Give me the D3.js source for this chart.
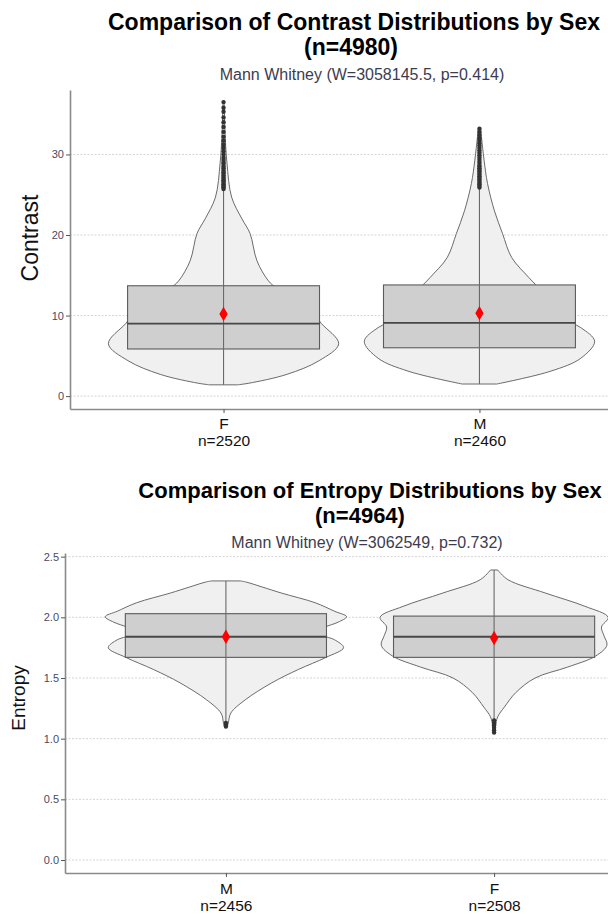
<!DOCTYPE html>
<html>
<head>
<meta charset="utf-8">
<script src="https://cdn.jsdelivr.net/npm/d3@7"></script>
<style>
  body { margin: 0; background: #fff; }
  text { font-family: "Liberation Sans", Arial, sans-serif; }
</style>
</head>
<body>
<div id="chart"></div>
<script>
// ---- Contrast panel data ----
const contrastCats = ["F", "M"];
const contrastN = [2520, 2460];
const contrastQ1 = [5.85, 6.0];
const contrastMedian = [9.0, 9.1];
const contrastQ3 = [13.7, 13.8];
const contrastMean = [10.2, 10.3];
const contrastWhiskerLo = [1.4, 1.5];
const contrastWhiskerHi = [25.5, 25.8];
// [value, relative violin width]
const contrastDensityF = [[1.4, 0.12], [1.6, 0.22], [2.7, 0.55], [4.4, 0.83], [6.5, 1.0], [9.0, 0.85],
  [10.2, 0.78], [11.5, 0.62], [13.4, 0.46], [14.3, 0.39], [16.8, 0.29], [20.2, 0.23], [22.0, 0.16],
  [24.7, 0.07], [28.9, 0.03], [32.0, 0.015], [36.5, 0.005]];
const contrastDensityM = [[1.5, 0.15], [3.1, 0.62], [4.7, 0.88], [6.8, 1.0], [8.5, 0.88], [9.7, 0.71],
  [11.5, 0.57], [13.1, 0.53], [14.7, 0.43], [17.2, 0.28], [20.2, 0.2], [23.0, 0.13], [26.4, 0.07],
  [29.3, 0.04], [33.2, 0.01]];
const contrastOutliersF = [25.7, 25.9, 26.0, 26.2, 26.3, 26.5, 26.7, 26.8, 27.0, 27.2, 27.4, 27.6, 27.8,
  28.0, 28.3, 28.5, 28.8, 29.0, 29.3, 29.6, 30.0, 30.4, 30.8, 31.2, 31.7, 32.2, 32.8, 33.4, 34.0, 34.6,
  35.3, 35.8, 36.5];
const contrastOutliersM = [25.9, 26.1, 26.3, 26.5, 26.7, 26.9, 27.1, 27.3, 27.5, 27.7, 27.9, 28.1, 28.3,
  28.5, 28.7, 29.0, 29.3, 29.6, 29.9, 30.2, 30.5, 30.8, 31.1, 31.4, 31.7, 32.0, 32.4, 32.8, 33.2];
const contrastTicks = [0, 10, 20, 30];

// ---- Entropy panel data ----
const entropyCats = ["M", "F"];
const entropyN = [2456, 2508];
const entropyQ1 = [1.67, 1.67];
const entropyMedian = [1.84, 1.84];
const entropyQ3 = [2.03, 2.01];
const entropyMean = [1.84, 1.83];
const entropyWhiskerLo = [1.14, 1.16];
const entropyWhiskerHi = [2.30, 2.39];
const entropyDensityM = [[1.10, 0.01], [1.13, 0.02], [1.21, 0.04], [1.32, 0.16], [1.46, 0.38], [1.57, 0.6],
  [1.67, 0.83], [1.75, 0.975], [1.815, 0.9], [1.84, 0.83], [1.88, 0.74], [1.92, 0.82], [1.96, 0.93],
  [2.005, 1.0], [2.05, 0.9], [2.12, 0.74], [2.20, 0.46], [2.25, 0.3], [2.29, 0.17], [2.30, 0.12]];
const entropyDensityF = [[1.05, 0.005], [1.10, 0.01], [1.18, 0.03], [1.26, 0.085], [1.38, 0.18], [1.50, 0.34],
  [1.59, 0.61], [1.68, 0.84], [1.77, 0.935], [1.85, 0.91], [1.92, 0.89], [2.00, 0.945], [2.09, 0.755],
  [2.20, 0.425], [2.31, 0.115], [2.39, 0.03]];
const entropyOutliersM = [1.10, 1.11, 1.12, 1.13];
const entropyOutliersF = [1.05, 1.07, 1.09, 1.11, 1.12, 1.13, 1.15];
const entropyTicks = [0, 0.5, 1.0, 1.5, 2.0, 2.5];

const width = 608;
const height = 914;

const svg = d3.select("#chart")
    .append("svg")
    .attr("width", width)
    .attr("height", height);

function drawPanel(p) {
    const g = svg.append("g");

    const y = d3.scaleLinear().domain(p.yDomain).range([p.bottom, p.top]);
    const x = d3.scalePoint().domain(p.cats).range([p.left, p.right]).padding(0.6);
    const step = x.step();

    // dotted grid
    g.append("g").selectAll("line")
        .data(p.ticks)
        .join("line")
        .attr("x1", p.left).attr("x2", width)
        .attr("y1", d => y(d)).attr("y2", d => y(d))
        .attr("stroke", "#d4d4d4")
        .attr("stroke-width", 1)
        .attr("stroke-dasharray", "2,1.5");

    p.cats.forEach((c, i) => {
        const cx = x(c);
        const vw = 0.45 * step;
        const bw = 0.375 * step;

        const area = d3.area()
            .curve(d3.curveCatmullRom)
            .y(d => y(d[0]))
            .x0(d => cx - d[1] * vw)
            .x1(d => cx + d[1] * vw);

        g.append("path")
            .datum(p.density[i])
            .attr("d", area)
            .attr("fill", "#f0f0f0")
            .attr("stroke", "#5a5a5a")
            .attr("stroke-width", 0.9);

        g.append("rect")
            .attr("x", cx - bw)
            .attr("width", 2 * bw)
            .attr("y", y(p.q3[i]))
            .attr("height", y(p.q1[i]) - y(p.q3[i]))
            .attr("fill", "#cfcfcf")
            .attr("stroke", "#5c5c5c")
            .attr("stroke-width", 1.1);

        g.append("line")
            .attr("x1", cx).attr("x2", cx)
            .attr("y1", y(p.whiskerLo[i])).attr("y2", y(p.whiskerHi[i]))
            .attr("stroke", "#6a6a6a")
            .attr("stroke-width", 1.1);

        g.append("line")
            .attr("x1", cx - bw).attr("x2", cx + bw)
            .attr("y1", y(p.median[i])).attr("y2", y(p.median[i]))
            .attr("stroke", "#474747")
            .attr("stroke-width", 1.8);

        g.append("g").selectAll("circle")
            .data(p.outliers[i])
            .join("circle")
            .attr("cx", cx)
            .attr("cy", d => y(d))
            .attr("r", 2.2)
            .attr("fill", "#333");

        g.append("path")
            .attr("d", d3.symbol(d3.symbolDiamond, 60))
            .attr("transform", `translate(${cx},${y(p.mean[i])})`)
            .attr("fill", "#ff0000");
    });

    // y axis
    const yAxis = g.append("g")
        .attr("transform", `translate(${p.left},0)`)
        .call(d3.axisLeft(y).tickValues(p.ticks).tickFormat(p.fmt).tickSize(4).tickSizeOuter(0));
    yAxis.select(".domain").attr("stroke", "#8a8a8a").attr("stroke-width", 1.6);
    yAxis.selectAll(".tick line").attr("stroke", "#555");
    yAxis.selectAll(".tick text")
        .attr("fill", "#4a4a62")
        .style("font-size", "11px")
        .attr("x", -6);

    // x axis
    const xAxis = g.append("g")
        .attr("transform", `translate(0,${p.bottom})`)
        .call(d3.axisBottom(x).tickSize(4).tickSizeOuter(0).tickFormat(""));
    xAxis.select(".domain").attr("stroke", "#8a8a8a").attr("stroke-width", 1.6);
    xAxis.selectAll(".tick line").attr("stroke", "#555");
    xAxis.selectAll(".tick").each(function(d, i) {
        const t = d3.select(this).append("text")
            .attr("text-anchor", "middle")
            .attr("fill", "#111")
            .style("font-size", "15.5px");
        t.append("tspan").attr("x", 0).attr("y", p.labelY1).text(d);
        t.append("tspan").attr("x", 0).attr("y", p.labelY2).text("n=" + p.n[i]);
    });

    // y title
    g.append("text")
        .attr("transform", `translate(${p.yTitleX},${p.yTitleY}) rotate(-90)`)
        .attr("text-anchor", "middle")
        .attr("fill", "#111")
        .style("font-size", p.yTitleSize)
        .text(p.yTitle);

    // titles
    g.append("text")
        .attr("x", p.titleX).attr("y", p.titleY)
        .attr("text-anchor", "middle")
        .style("font-size", p.titleSize).style("font-weight", "bold")
        .text(p.title);
    g.append("text")
        .attr("x", p.title2X).attr("y", p.titleY + 25)
        .attr("text-anchor", "middle")
        .style("font-size", p.titleSize).style("font-weight", "bold")
        .text(p.title2);
    g.append("text")
        .attr("x", p.subX).attr("y", p.titleY + 50)
        .attr("text-anchor", "middle")
        .attr("fill", "#3c3c50")
        .style("font-size", "16px")
        .text(p.subtitle);
}

drawPanel({
    cats: contrastCats, n: contrastN,
    q1: contrastQ1, median: contrastMedian, q3: contrastQ3, mean: contrastMean,
    whiskerLo: contrastWhiskerLo, whiskerHi: contrastWhiskerHi,
    density: [contrastDensityF, contrastDensityM],
    outliers: [contrastOutliersF, contrastOutliersM],
    ticks: contrastTicks, fmt: d3.format("d"),
    yDomain: [-1.6, 38], top: 90, bottom: 409, left: 70, right: 633,
    labelY1: 20, labelY2: 37,
    yTitle: "Contrast", yTitleX: 38, yTitleY: 238, yTitleSize: "23px",
    title: "Comparison of Contrast Distributions by Sex", titleSize: "23px", titleX: 354, titleY: 30,
    title2: "(n=4980)", title2X: 351,
    subtitle: "Mann Whitney (W=3058145.5, p=0.414)", subX: 362
});

drawPanel({
    cats: entropyCats, n: entropyN,
    q1: entropyQ1, median: entropyMedian, q3: entropyQ3, mean: entropyMean,
    whiskerLo: entropyWhiskerLo, whiskerHi: entropyWhiskerHi,
    density: [entropyDensityM, entropyDensityF],
    outliers: [entropyOutliersM, entropyOutliersF],
    ticks: entropyTicks, fmt: d3.format(".1f"),
    yDomain: [-0.107, 2.53], top: 553, bottom: 873, left: 65, right: 655,
    labelY1: 21, labelY2: 38,
    yTitle: "Entropy", yTitleX: 25, yTitleY: 698, yTitleSize: "19px",
    title: "Comparison of Entropy Distributions by Sex", titleSize: "22px", titleX: 370, titleY: 498,
    title2: "(n=4964)", title2X: 360,
    subtitle: "Mann Whitney (W=3062549, p=0.732)", subX: 367
});
</script>
</body>
</html>
